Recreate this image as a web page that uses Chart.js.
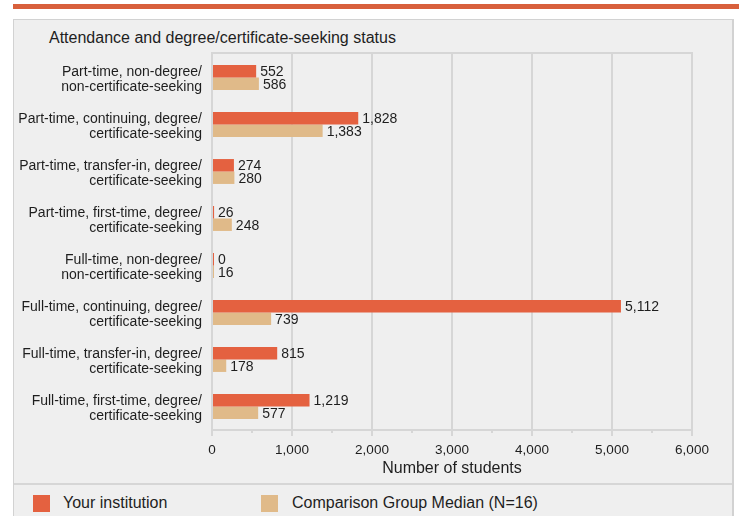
<!DOCTYPE html>
<html>
<head>
<meta charset="utf-8">
<script src="https://cdn.jsdelivr.net/npm/chart.js@4/dist/chart.umd.min.js"></script>
<style>
  html, body { margin: 0; padding: 0; background: #fff; }
  body { width: 739px; height: 516px; position: relative; overflow: hidden;
         font-family: "Liberation Sans", Arial, sans-serif; color: #1e1e1e; }
  #band { position: absolute; left: 13px; top: 4px; width: 726px; height: 5px; background: #d8603c; }
  #panel { position: absolute; left: 13px; top: 19px; width: 718px; height: 520px;
           background: #efefef; border-left: 1px solid #d2d2d2; border-top: 1px solid #d2d2d2;
           border-right: 2px solid #d2d2d2; }
  #divider { position: absolute; left: 14px; top: 483px; width: 718px; height: 2px; background: #d6d6d6; }
  #title { position: absolute; left: 49px; top: 28px; font-size: 16px; line-height: 20px; }
  .key { position: absolute; top: 495px; width: 17px; height: 17px; }
  .keyText { position: absolute; top: 493px; font-size: 16px; line-height: 20px; }
  #chartBox { position: absolute; left: 0; top: 0; width: 739px; height: 516px; }
</style>
</head>
<body>
<div id="band"></div>
<div id="panel"></div>
<div id="divider"></div>
<div id="title">Attendance and degree/certificate-seeking status</div>
<div class="key" style="left:33px;background:#e46140"></div>
<div class="keyText" style="left:63px">Your institution</div>
<div class="key" style="left:261px;background:#e0ba89"></div>
<div class="keyText" style="left:292px">Comparison Group Median (N=16)</div>
<div id="chartBox"><canvas id="statusChart"></canvas></div>

<script>
const categories = [
  ["Part-time, non-degree/", "non-certificate-seeking"],
  ["Part-time, continuing, degree/", "certificate-seeking"],
  ["Part-time, transfer-in, degree/", "certificate-seeking"],
  ["Part-time, first-time, degree/", "certificate-seeking"],
  ["Full-time, non-degree/", "non-certificate-seeking"],
  ["Full-time, continuing, degree/", "certificate-seeking"],
  ["Full-time, transfer-in, degree/", "certificate-seeking"],
  ["Full-time, first-time, degree/", "certificate-seeking"]
];
const yourInstitution = [552, 1828, 274, 26, 0, 5112, 815, 1219];
const comparisonMedian = [586, 1383, 280, 248, 16, 739, 178, 577];
const xTicks = [0, 1000, 2000, 3000, 4000, 5000, 6000];

const gridColor = "#d6d6d6";
const textColor = "#1e1e1e";
const fontFamily = '"Liberation Sans", Arial, sans-serif';

Chart.defaults.font.family = fontFamily;
Chart.defaults.color = textColor;

// value labels next to the bars, top border line and minor ticks
const extras = {
  id: "extras",
  afterDraw(chart) {
    const c = chart.ctx;
    const area = chart.chartArea;
    const xs = chart.scales.x;
    c.save();
    c.strokeStyle = gridColor;
    c.lineWidth = 2;
    c.beginPath();
    c.moveTo(area.left - 1, area.top - 1);
    c.lineTo(area.right + 1, area.top - 1);
    for (let v = 500; v < 6000; v += 1000) {
      const px = Math.round(xs.getPixelForValue(v));
      c.moveTo(px, area.bottom);
      c.lineTo(px, area.bottom + 3);
    }
    c.stroke();

    c.fillStyle = textColor;
    c.font = "14px " + fontFamily;
    c.textBaseline = "middle";
    c.textAlign = "left";
    chart.data.datasets.forEach((ds, i) => {
      chart.getDatasetMeta(i).data.forEach((bar, j) => {
        c.fillText(ds.data[j].toLocaleString("en-US"), bar.x + 4, bar.y + 1);
      });
    });
    c.restore();
  }
};

new Chart(document.getElementById("statusChart"), {
  type: "bar",
  data: {
    labels: categories,
    datasets: [
      { label: "Your institution", data: yourInstitution, backgroundColor: "#e46140",
        categoryPercentage: 0.53, barPercentage: 1, minBarLength: 2 },
      { label: "Comparison Group Median (N=16)", data: comparisonMedian, backgroundColor: "#e0ba89",
        categoryPercentage: 0.53, barPercentage: 1, minBarLength: 2 }
    ]
  },
  options: {
    indexAxis: "y",
    responsive: true,
    maintainAspectRatio: false,
    animation: false,
    layout: { padding: { left: 0, right: 47, top: 54, bottom: 38 } },
    plugins: {
      legend: { display: false },
      tooltip: { enabled: false }
    },
    scales: {
      x: {
        min: 0,
        max: 6000,
        afterBuildTicks: s => { s.ticks = xTicks.map(v => ({ value: v })); },
        afterFit: s => { s.height = 48; },
        ticks: {
          font: { size: 13.5 },
          padding: 6,
          callback: v => v.toLocaleString("en-US")
        },
        grid: { color: gridColor, lineWidth: 2, tickLength: 6, tickColor: gridColor, tickWidth: 2 },
        border: { color: gridColor, width: 2 },
        title: {
          display: true,
          text: "Number of students",
          font: { size: 16 },
          padding: { top: 0, bottom: 0 }
        }
      },
      y: {
        afterFit: s => { s.width = 212; },
        ticks: { font: { size: 14, lineHeight: 1.05 }, padding: 10, labelOffset: 2 },
        grid: { display: false, drawTicks: false },
        border: { display: false }
      }
    }
  },
  plugins: [extras]
});
</script>
</body>
</html>
